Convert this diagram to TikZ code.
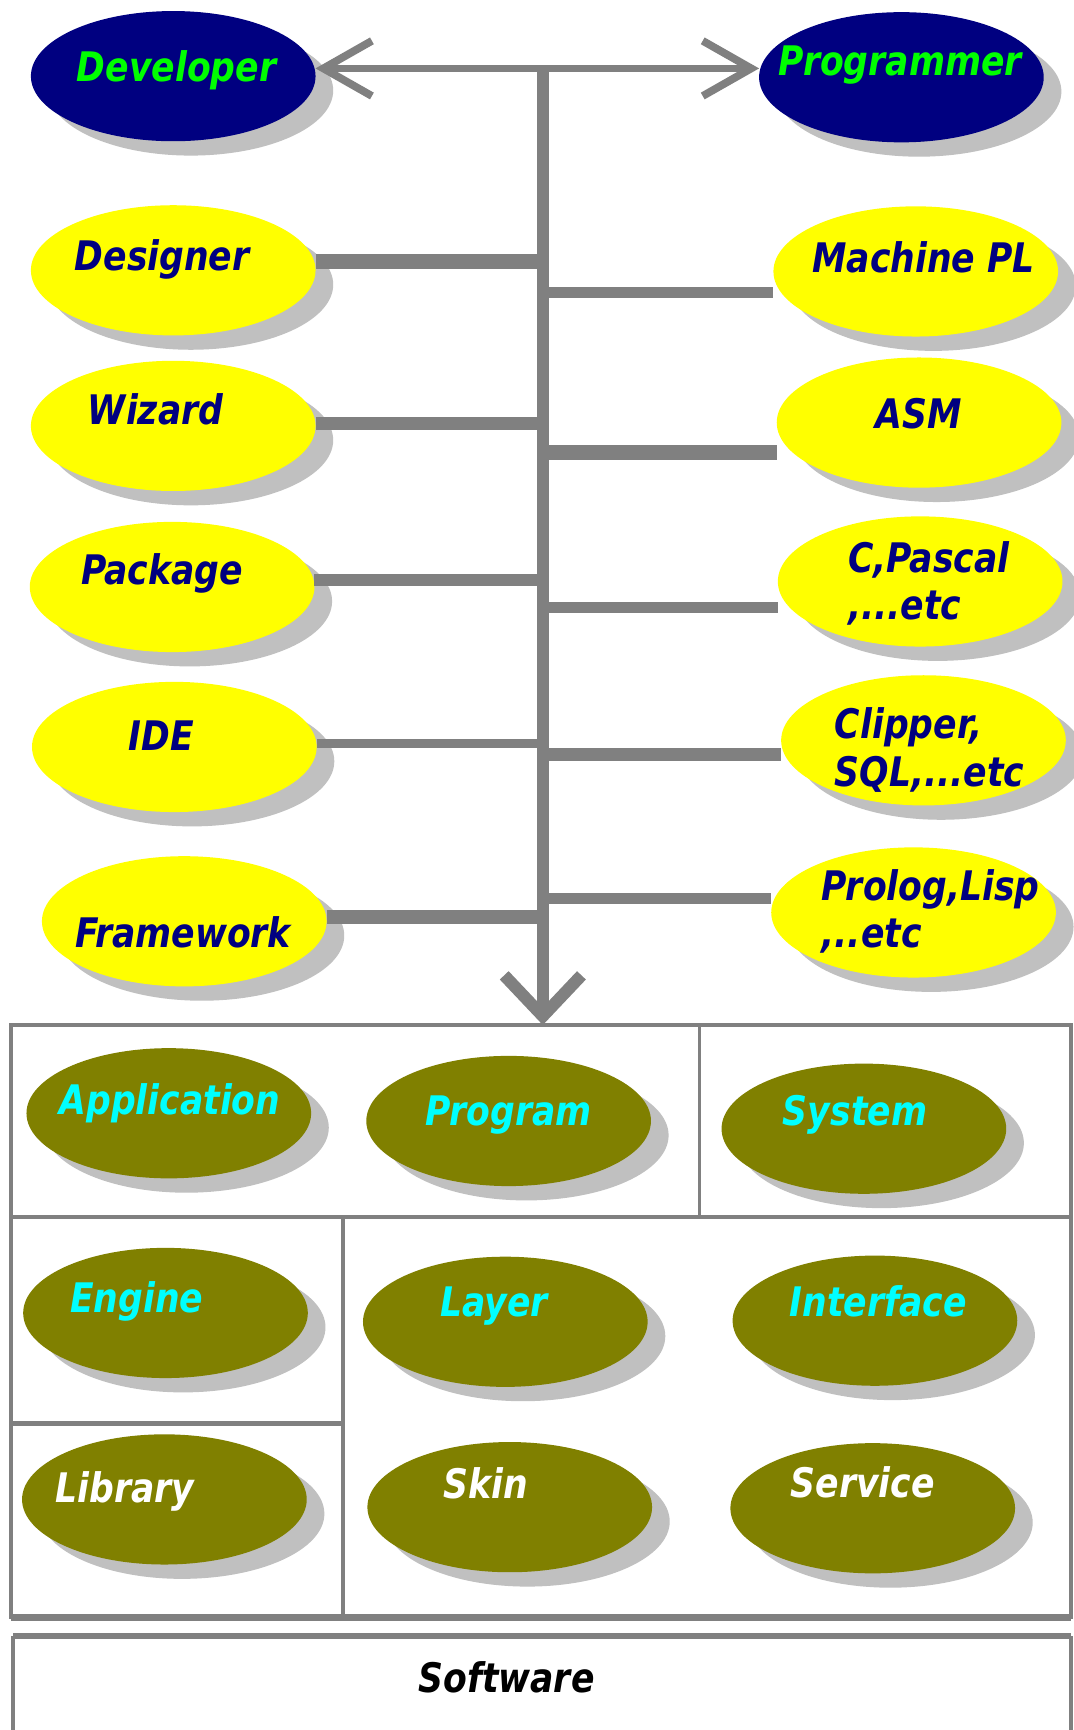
\documentclass[tikz,border=0pt]{standalone}
\usepackage{fontspec}
\newfontfamily\blobfont{DejaVu Sans}[FakeStretch=0.85]
\usetikzlibrary{arrows.meta,shapes.geometric,shadows}
\definecolor{navy}{HTML}{000080}
\definecolor{devgreen}{HTML}{00FF00}
\definecolor{blobyellow}{HTML}{FFFF00}
\definecolor{blobolive}{HTML}{808000}
\definecolor{blobcyan}{HTML}{00FFFF}
\definecolor{linegray}{HTML}{808080}
\definecolor{shadowgray}{HTML}{C0C0C0}
\tikzset{
  blob/.style={ellipse, minimum width=25.8mm, minimum height=11.8mm, inner sep=0pt, outer sep=0pt,
    general shadow={fill=shadowgray, shadow xshift=1.6mm, shadow yshift=-1.3mm}},
  lbl/.style={font=\blobfont\fontsize{10.5}{12.2}\selectfont\bfseries\itshape, inner sep=0pt},
  branch/.style={linegray, line width=#1},
  boxline/.style={linegray, line width=#1},
}

\begin{document}
\begin{tikzpicture}[x=0.1mm, y=-0.1mm]
        \useasboundingbox[fill=white] (0,0) rectangle (973,1568);
        \draw[boxline=0.35mm] (10,929) rectangle (971,1466);
        \draw[boxline=0.45mm] (10,929) -- (971,929);
        \draw[boxline=0.4mm] (10,1103) -- (971,1103);
        \draw[boxline=0.6mm] (10,1466) -- (971,1466);
        \draw[boxline=0.3mm] (634,929) -- (634,1103);
        \draw[boxline=0.35mm] (311,1103) -- (311,1466);
        \draw[boxline=0.4mm] (10,1290) -- (311,1290);
        \draw[boxline=0.35mm] (12,1568) -- (12,1483);
        \draw[boxline=0.35mm] (971,1483) -- (971,1568);
        \draw[boxline=0.55mm] (12,1483) -- (971,1483);

        \node[blob, fill=navy] (developer) at (157,69) {};
        \node[blob, fill=navy] (programmer) at (817,70) {};

        \node[blob, fill=blobyellow] (designer) at (157,245) {};
        \node[blob, fill=blobyellow] (wizard) at (157,386) {};
        \node[blob, fill=blobyellow] (package) at (156,532) {};
        \node[blob, fill=blobyellow] (ide) at (158,677) {};
        \node[blob, fill=blobyellow] (framework) at (167,835) {};
        \node[blob, fill=blobyellow] (machine) at (830,246) {};
        \node[blob, fill=blobyellow] (asm) at (833,383) {};
        \node[blob, fill=blobyellow] (cpascal) at (834,527) {};
        \node[blob, fill=blobyellow] (clipper) at (837,671) {};
        \node[blob, fill=blobyellow] (prolog) at (828,827) {};

        \node[blob, fill=blobolive] (application) at (153,1009) {};
        \node[blob, fill=blobolive] (program) at (461,1016) {};
        \node[blob, fill=blobolive] (system) at (783,1023) {};
        \node[blob, fill=blobolive] (engine) at (150,1190) {};
        \node[blob, fill=blobolive] (layer) at (458,1198) {};
        \node[blob, fill=blobolive] (interface) at (793,1197) {};
        \node[blob, fill=blobolive] (library) at (149,1359) {};
        \node[blob, fill=blobolive] (skin) at (462,1366) {};
        \node[blob, fill=blobolive] (service) at (791,1367) {};

        \coordinate (hub) at (492,62);
        \coordinate (boxtop) at (492,929);
        \draw[linegray, line width=0.7mm, {Straight Barb[length=4.4mm,width=5mm]}-{Straight Barb[length=4.4mm,width=5mm]}]
        (developer.east |- hub) -- (programmer.west |- hub);
        \draw[linegray, line width=1.1mm, -{Straight Barb[length=3.7mm,width=7mm]}] (hub) -- (boxtop);

        \draw[branch=1.4mm] (designer.east |- 0,237) -- (hub |- 0,237);
        \draw[branch=1.2mm] (wizard.east |- 0,384) -- (hub |- 0,384);
        \draw[branch=1.1mm] (package.east |- 0,526) -- (hub |- 0,526);
        \draw[branch=0.8mm] (ide.east |- 0,674) -- (hub |- 0,674);
        \draw[branch=1.3mm] (framework.east |- 0,831) -- (hub |- 0,831);
        \draw[branch=1.0mm] (hub |- 0,265) -- (machine.west |- 0,265);
        \draw[branch=1.3mm] (hub |- 0,410) -- (asm.west |- 0,410);
        \draw[branch=1.0mm] (hub |- 0,551) -- (cpascal.west |- 0,551);
        \draw[branch=1.2mm] (hub |- 0,684) -- (clipper.west |- 0,684);
        \draw[branch=1.0mm] (hub |- 0,814) -- (prolog.west |- 0,814);

        \node[lbl, text=devgreen, anchor=base] (developer-t) at (160,74) {Developer};
        \node[lbl, text=devgreen, anchor=base] (programmer-t) at (816,68) {Programmer};

        \node[lbl, text=navy, anchor=base] (designer-t) at (147,245) {Designer};
        \node[lbl, text=navy, anchor=base] (wizard-t) at (141,385) {Wizard};
        \node[lbl, text=navy, anchor=base] (package-t) at (147,530) {Package};
        \node[lbl, text=navy, anchor=base] (ide-t) at (146,680) {IDE};
        \node[lbl, text=navy, anchor=base] (framework-t) at (166,859) {Framework};
        \node[lbl, text=navy, anchor=base] (machine-t) at (837,247) {Machine PL};
        \node[lbl, text=navy, anchor=base] (asm-t) at (833,388) {ASM};
        \node[lbl, text=navy, align=left, anchor=north west] (cpascal-t) at (768,490) {C,Pascal\\,...etc};
        \node[lbl, text=navy, align=left, anchor=north west] (clipper-t) at (756,641) {Clipper,\\SQL,...etc};
        \node[lbl, text=navy, align=left, anchor=north west] (prolog-t) at (744,787) {Prolog,Lisp\\,..etc};

        \node[lbl, text=blobcyan, anchor=base] (application-t) at (154,1010) {Application};
        \node[lbl, text=blobcyan, anchor=base] (program-t) at (461,1020) {Program};
        \node[lbl, text=blobcyan, anchor=base] (system-t) at (775,1020) {System};
        \node[lbl, text=blobcyan, anchor=base] (engine-t) at (124,1190) {Engine};
        \node[lbl, text=blobcyan, anchor=base] (layer-t) at (448,1193) {Layer};
        \node[lbl, text=blobcyan, anchor=base] (interface-t) at (796,1193) {Interface};
        \node[lbl, text=white, anchor=base] (library-t) at (113,1362) {Library};
        \node[lbl, text=white, anchor=base] (skin-t) at (440,1358) {Skin};
        \node[lbl, text=white, anchor=base] (service-t) at (782,1357) {Service};

        \node[lbl, text=black, anchor=base] (software) at (459,1534) {Software};
\end{tikzpicture}
\end{document}
